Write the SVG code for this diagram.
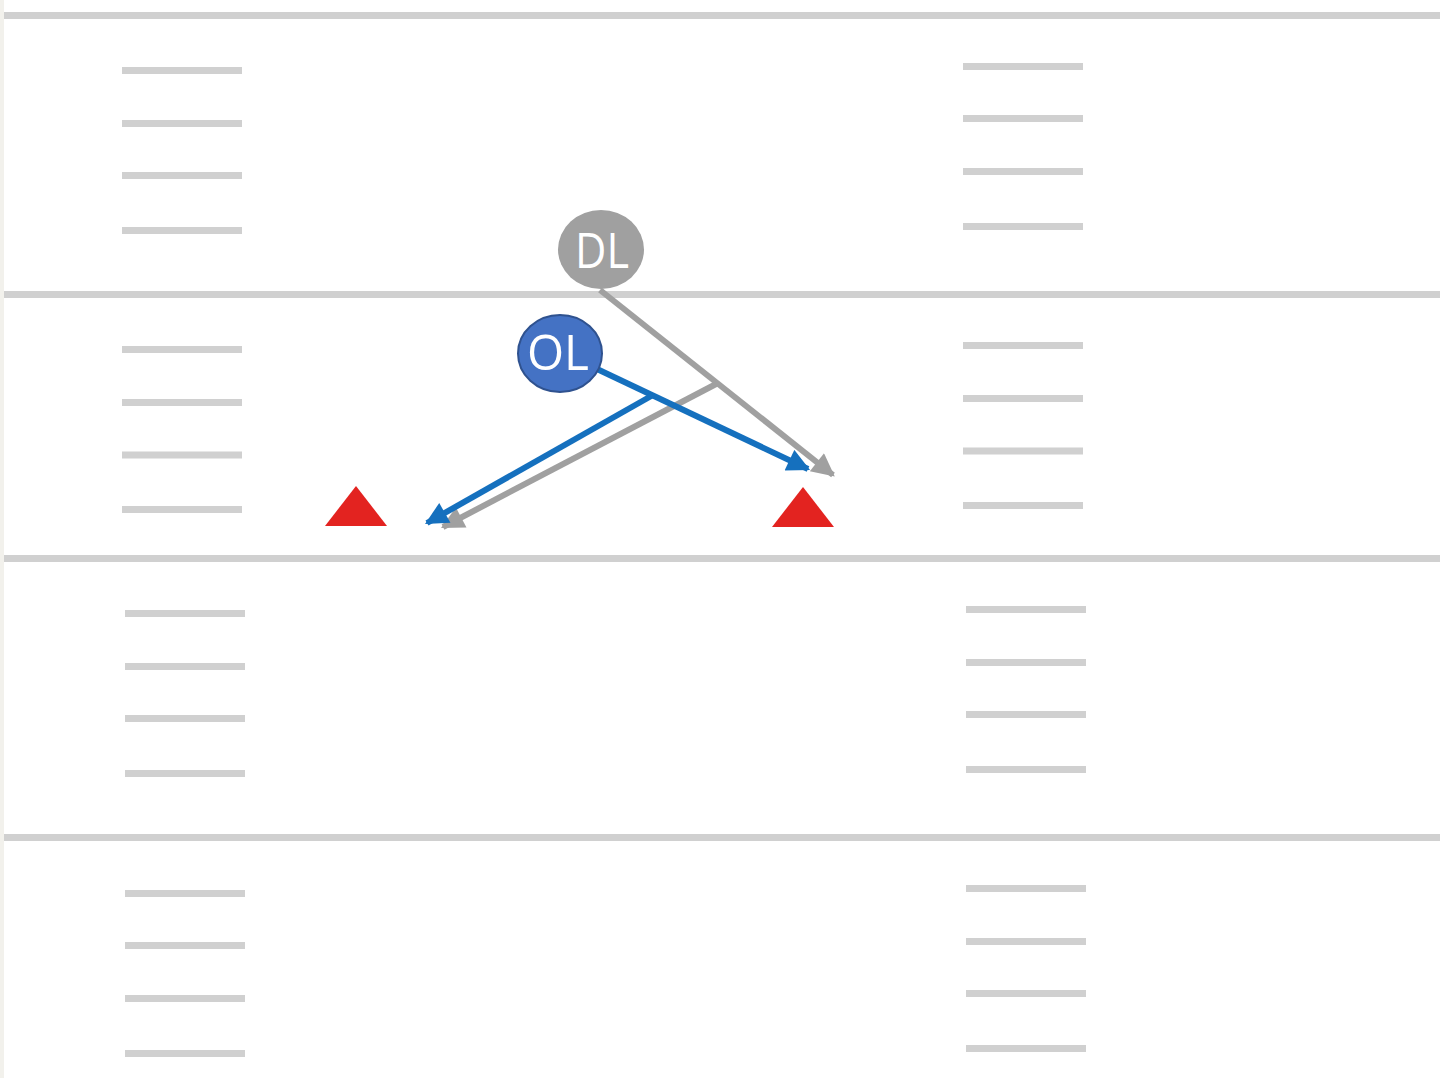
<svg xmlns="http://www.w3.org/2000/svg" width="1440" height="1078" viewBox="0 0 1440 1078">
<style>
.yard{stroke:#d0d0d0;stroke-width:7;fill:none}
.hash{stroke:#d0d0d0;stroke-width:7;fill:none}
.gray{stroke:#a0a0a0;stroke-width:6;fill:none}
.blue{stroke:#1570be;stroke-width:6;fill:none}
.cone{fill:#e32320}
.lbl{font-family:"Open Sans","Liberation Sans",sans-serif;font-size:50px;fill:#ffffff}
</style>
<defs>
<marker id="ag" viewBox="0 0 10 10" refX="9" refY="5" markerWidth="4.3" markerHeight="3.8" markerUnits="strokeWidth" orient="auto">
<path d="M0,0 L10,5 L0,10 Z" fill="#a0a0a0"/>
</marker>
<marker id="ab" viewBox="0 0 10 10" refX="9" refY="5" markerWidth="4.3" markerHeight="3.8" markerUnits="strokeWidth" orient="auto">
<path d="M0,0 L10,5 L0,10 Z" fill="#1570be"/>
</marker>
</defs>
<rect x="0" y="0" width="1440" height="1078" fill="#ffffff"/>
<rect x="0" y="0" width="4" height="1078" fill="#f2f1ec"/>
<g id="field">
<line class="yard" x1="4" y1="15.5" x2="1440" y2="15.5"/>
<line class="yard" x1="4" y1="294.5" x2="1440" y2="294.5"/>
<line class="yard" x1="4" y1="558.5" x2="1440" y2="558.5"/>
<line class="yard" x1="4" y1="837.5" x2="1440" y2="837.5"/>
<line class="hash" x1="122" y1="70.5" x2="242" y2="70.5"/>
<line class="hash" x1="122" y1="123.5" x2="242" y2="123.5"/>
<line class="hash" x1="122" y1="175.5" x2="242" y2="175.5"/>
<line class="hash" x1="122" y1="230.5" x2="242" y2="230.5"/>
<line class="hash" x1="122" y1="349.5" x2="242" y2="349.5"/>
<line class="hash" x1="122" y1="402.5" x2="242" y2="402.5"/>
<line class="hash" x1="122" y1="455" x2="242" y2="455"/>
<line class="hash" x1="122" y1="509.5" x2="242" y2="509.5"/>
<line class="hash" x1="125" y1="613.5" x2="245" y2="613.5"/>
<line class="hash" x1="125" y1="666.5" x2="245" y2="666.5"/>
<line class="hash" x1="125" y1="718.5" x2="245" y2="718.5"/>
<line class="hash" x1="125" y1="773.5" x2="245" y2="773.5"/>
<line class="hash" x1="125" y1="893.5" x2="245" y2="893.5"/>
<line class="hash" x1="125" y1="945.5" x2="245" y2="945.5"/>
<line class="hash" x1="125" y1="998.5" x2="245" y2="998.5"/>
<line class="hash" x1="125" y1="1053.5" x2="245" y2="1053.5"/>
<line class="hash" x1="963" y1="66.5" x2="1083" y2="66.5"/>
<line class="hash" x1="963" y1="118.5" x2="1083" y2="118.5"/>
<line class="hash" x1="963" y1="171.5" x2="1083" y2="171.5"/>
<line class="hash" x1="963" y1="226.5" x2="1083" y2="226.5"/>
<line class="hash" x1="963" y1="345.5" x2="1083" y2="345.5"/>
<line class="hash" x1="963" y1="398.5" x2="1083" y2="398.5"/>
<line class="hash" x1="963" y1="451" x2="1083" y2="451"/>
<line class="hash" x1="963" y1="505.5" x2="1083" y2="505.5"/>
<line class="hash" x1="966" y1="609.5" x2="1086" y2="609.5"/>
<line class="hash" x1="966" y1="662.5" x2="1086" y2="662.5"/>
<line class="hash" x1="966" y1="714.5" x2="1086" y2="714.5"/>
<line class="hash" x1="966" y1="769.5" x2="1086" y2="769.5"/>
<line class="hash" x1="966" y1="888.5" x2="1086" y2="888.5"/>
<line class="hash" x1="966" y1="941.5" x2="1086" y2="941.5"/>
<line class="hash" x1="966" y1="993.5" x2="1086" y2="993.5"/>
<line class="hash" x1="966" y1="1048.5" x2="1086" y2="1048.5"/>
</g>
<g id="cone-left"><polygon class="cone" points="356,486 387,526 325,526"/></g>
<g id="cone-right"><polygon class="cone" points="803,487 834,527 772,527"/></g>
<g id="connectors">
<line class="gray" x1="600" y1="290" x2="833" y2="475" marker-end="url(#ag)"/>
<line class="gray" x1="718" y1="383" x2="443" y2="527" marker-end="url(#ag)"/>
<line class="blue" x1="597" y1="369" x2="808" y2="469" marker-end="url(#ab)"/>
<line class="blue" x1="653" y1="395" x2="427" y2="523" marker-end="url(#ab)"/>
</g>
<g id="DL">
<ellipse cx="601" cy="249.5" rx="43" ry="39.5" fill="#a0a0a0"/>
<text class="lbl" x="575" y="268" textLength="54" lengthAdjust="spacingAndGlyphs">DL</text>
</g>
<g id="OL">
<ellipse cx="560" cy="353.5" rx="42" ry="38.5" fill="#4472c4" stroke="#2f528f" stroke-width="2"/>
<text class="lbl" x="527" y="370" textLength="62" lengthAdjust="spacingAndGlyphs">OL</text>
</g>
</svg>
